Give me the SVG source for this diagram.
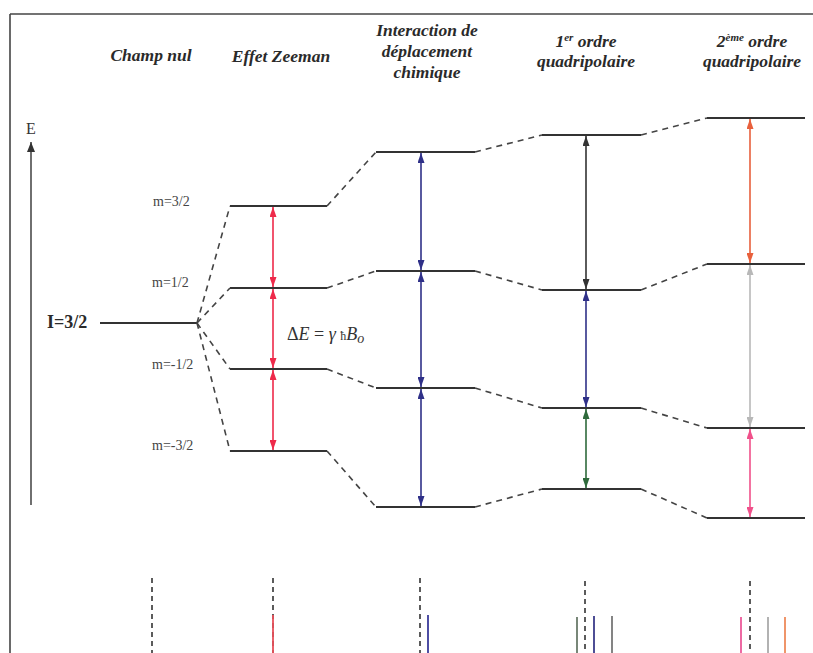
<svg xmlns="http://www.w3.org/2000/svg" width="813" height="653" viewBox="0 0 813 653">
<style>
.title{font-family:"Liberation Serif","Times New Roman",serif;font-weight:bold;font-style:italic;font-size:17.5px;fill:#2a2a2a;text-anchor:middle}
.mlab{font-family:"Liberation Serif","Times New Roman",serif;font-size:14px;fill:#444}
.lvl{stroke:#333;stroke-width:2;fill:none}
.dash{stroke:#444;stroke-width:1.6;stroke-dasharray:6 5;fill:none}
.vdash{stroke:#333;stroke-width:1.6;stroke-dasharray:5 4;fill:none}
.arr{stroke-width:1.6;fill:none}
.spec{stroke-width:1.8}
</style>
<defs>
<marker id="mRed" markerUnits="userSpaceOnUse" markerWidth="10" markerHeight="7" refX="10" refY="3.5" orient="auto-start-reverse"><path d="M0,0 L10,3.5 L0,7 z" fill="#ee2a4a"/></marker>
<marker id="mBlue" markerUnits="userSpaceOnUse" markerWidth="10" markerHeight="7" refX="10" refY="3.5" orient="auto-start-reverse"><path d="M0,0 L10,3.5 L0,7 z" fill="#2f3088"/></marker>
<marker id="mDark" markerUnits="userSpaceOnUse" markerWidth="10" markerHeight="7" refX="10" refY="3.5" orient="auto-start-reverse"><path d="M0,0 L10,3.5 L0,7 z" fill="#333"/></marker>
<marker id="mGreen" markerUnits="userSpaceOnUse" markerWidth="10" markerHeight="7" refX="10" refY="3.5" orient="auto-start-reverse"><path d="M0,0 L10,3.5 L0,7 z" fill="#2f6a3c"/></marker>
<marker id="mOrange" markerUnits="userSpaceOnUse" markerWidth="10" markerHeight="7" refX="10" refY="3.5" orient="auto-start-reverse"><path d="M0,0 L10,3.5 L0,7 z" fill="#e8603c"/></marker>
<marker id="mGray" markerUnits="userSpaceOnUse" markerWidth="10" markerHeight="7" refX="10" refY="3.5" orient="auto-start-reverse"><path d="M0,0 L10,3.5 L0,7 z" fill="#b8b8b8"/></marker>
<marker id="mPink" markerUnits="userSpaceOnUse" markerWidth="10" markerHeight="7" refX="10" refY="3.5" orient="auto-start-reverse"><path d="M0,0 L10,3.5 L0,7 z" fill="#f0508a"/></marker>
<marker id="mAxis" markerUnits="userSpaceOnUse" markerWidth="10" markerHeight="8" refX="10" refY="4" orient="auto"><path d="M0,0 L10,4 L0,8 z" fill="#333"/></marker>
</defs>
<rect x="0" y="0" width="813" height="653" fill="#fff"/>

<g id="frame">
<line x1="10" y1="14" x2="813" y2="14" stroke="#444" stroke-width="1.6"/>
<line x1="10" y1="14" x2="10" y2="653" stroke="#444" stroke-width="1.6"/>
</g>

<g id="axis">
<line x1="31" y1="505" x2="31" y2="142" stroke="#333" stroke-width="1.4" marker-end="url(#mAxis)"/>
<text x="31" y="134" font-family="'Liberation Serif','Times New Roman',serif" font-size="16" text-anchor="middle" fill="#333">E</text>
</g>

<g id="titles">
<text class="title" x="151" y="61">Champ nul</text>
<text class="title" x="281" y="62">Effet Zeeman</text>
<text class="title" x="427" y="36">Interaction de</text>
<text class="title" x="427" y="57">déplacement</text>
<text class="title" x="427" y="78">chimique</text>
<text class="title" x="586" y="47">1<tspan font-size="11" dy="-6">er</tspan><tspan dy="6"> ordre</tspan></text>
<text class="title" x="586" y="67">quadripolaire</text>
<text class="title" x="752" y="47">2<tspan font-size="11" dy="-6">ème</tspan><tspan dy="6"> ordre</tspan></text>
<text class="title" x="752" y="67">quadripolaire</text>
</g>

<g id="champ-nul">
<text x="47" y="328" font-family="'Liberation Serif','Times New Roman',serif" font-weight="bold" font-size="18" fill="#2a2a2a">I=3/2</text>
<line class="lvl" x1="100" y1="323" x2="197" y2="323"/>
</g>

<g id="zeeman">
<line class="lvl" x1="230" y1="206" x2="327" y2="206"/>
<line class="lvl" x1="230" y1="288" x2="327" y2="288"/>
<line class="lvl" x1="230" y1="369" x2="327" y2="369"/>
<line class="lvl" x1="230" y1="451" x2="327" y2="451"/>
<text class="mlab" x="153" y="206">m=3/2</text>
<text class="mlab" x="152" y="287">m=1/2</text>
<text class="mlab" x="152" y="369">m=-1/2</text>
<text class="mlab" x="152" y="450">m=-3/2</text>
<text x="287" y="340" font-family="'Liberation Serif','Times New Roman',serif" font-size="18" fill="#333">Δ<tspan font-style="italic">E</tspan> = <tspan font-style="italic">γ</tspan> <tspan font-size="12">ħ</tspan><tspan font-style="italic">B</tspan><tspan font-style="italic" font-size="14" dy="3">o</tspan></text>
</g>

<g id="chemical-shift">
<line class="lvl" x1="376" y1="152" x2="475" y2="152"/>
<line class="lvl" x1="376" y1="271" x2="475" y2="271"/>
<line class="lvl" x1="376" y1="388" x2="475" y2="388"/>
<line class="lvl" x1="376" y1="507" x2="475" y2="507"/>
</g>

<g id="quad-1">
<line class="lvl" x1="542" y1="135" x2="641" y2="135"/>
<line class="lvl" x1="542" y1="290" x2="641" y2="290"/>
<line class="lvl" x1="542" y1="408" x2="641" y2="408"/>
<line class="lvl" x1="542" y1="489" x2="641" y2="489"/>
</g>

<g id="quad-2">
<line class="lvl" x1="707" y1="118" x2="805" y2="118"/>
<line class="lvl" x1="707" y1="264" x2="805" y2="264"/>
<line class="lvl" x1="707" y1="428" x2="805" y2="428"/>
<line class="lvl" x1="707" y1="518" x2="805" y2="518"/>
</g>

<g id="connectors">
<line class="dash" x1="197" y1="323" x2="230" y2="206"/>
<line class="dash" x1="197" y1="323" x2="230" y2="288"/>
<line class="dash" x1="197" y1="323" x2="230" y2="369"/>
<line class="dash" x1="197" y1="323" x2="230" y2="451"/>
<line class="dash" x1="327" y1="206" x2="376" y2="152"/>
<line class="dash" x1="327" y1="288" x2="376" y2="271"/>
<line class="dash" x1="327" y1="369" x2="376" y2="388"/>
<line class="dash" x1="327" y1="451" x2="376" y2="507"/>
<line class="dash" x1="475" y1="152" x2="542" y2="135"/>
<line class="dash" x1="475" y1="271" x2="542" y2="290"/>
<line class="dash" x1="475" y1="388" x2="542" y2="408"/>
<line class="dash" x1="475" y1="507" x2="542" y2="489"/>
<line class="dash" x1="641" y1="135" x2="707" y2="118"/>
<line class="dash" x1="641" y1="290" x2="707" y2="264"/>
<line class="dash" x1="641" y1="408" x2="707" y2="428"/>
<line class="dash" x1="641" y1="489" x2="707" y2="518"/>
</g>

<g id="transitions">
<line class="arr" stroke="#ee2a4a" x1="273" y1="207" x2="273" y2="287" marker-start="url(#mRed)" marker-end="url(#mRed)"/>
<line class="arr" stroke="#ee2a4a" x1="273" y1="289" x2="273" y2="368" marker-start="url(#mRed)" marker-end="url(#mRed)"/>
<line class="arr" stroke="#ee2a4a" x1="273" y1="370" x2="273" y2="450" marker-start="url(#mRed)" marker-end="url(#mRed)"/>
<line class="arr" stroke="#2f3088" x1="421" y1="153" x2="421" y2="270" marker-start="url(#mBlue)" marker-end="url(#mBlue)"/>
<line class="arr" stroke="#2f3088" x1="421" y1="272" x2="421" y2="387" marker-start="url(#mBlue)" marker-end="url(#mBlue)"/>
<line class="arr" stroke="#2f3088" x1="421" y1="389" x2="421" y2="506" marker-start="url(#mBlue)" marker-end="url(#mBlue)"/>
<line class="arr" stroke="#333" x1="586" y1="136" x2="586" y2="289" marker-start="url(#mDark)" marker-end="url(#mDark)"/>
<line class="arr" stroke="#2f3088" x1="586" y1="291" x2="586" y2="407" marker-start="url(#mBlue)" marker-end="url(#mBlue)"/>
<line class="arr" stroke="#2f6a3c" x1="586" y1="409" x2="586" y2="488" marker-start="url(#mGreen)" marker-end="url(#mGreen)"/>
<line class="arr" stroke="#e8603c" x1="750" y1="119" x2="750" y2="263" marker-start="url(#mOrange)" marker-end="url(#mOrange)"/>
<line class="arr" stroke="#b8b8b8" x1="750" y1="265" x2="750" y2="427" marker-start="url(#mGray)" marker-end="url(#mGray)"/>
<line class="arr" stroke="#f0508a" x1="750" y1="429" x2="750" y2="517" marker-start="url(#mPink)" marker-end="url(#mPink)"/>
</g>

<g id="spectra">
<line class="vdash" x1="152" y1="578" x2="152" y2="653"/>
<line class="vdash" x1="273" y1="578" x2="273" y2="653"/>
<line class="spec" stroke="#e8505a" x1="273" y1="615" x2="273" y2="653"/>
<line class="vdash" x1="420" y1="578" x2="420" y2="653"/>
<line class="spec" stroke="#3a3a9a" x1="428" y1="615" x2="428" y2="653"/>
<line class="vdash" x1="585" y1="581" x2="585" y2="653"/>
<line class="spec" stroke="#6a7a6a" x1="577" y1="617" x2="577" y2="653"/>
<line class="spec" stroke="#3a3a8a" x1="594" y1="616" x2="594" y2="653"/>
<line class="spec" stroke="#777" x1="612" y1="616" x2="612" y2="653"/>
<line class="vdash" x1="750" y1="581" x2="750" y2="653"/>
<line class="spec" stroke="#ec5a9a" x1="741" y1="617" x2="741" y2="653"/>
<line class="spec" stroke="#aaa" x1="768" y1="617" x2="768" y2="653"/>
<line class="spec" stroke="#ee8a5a" x1="785" y1="617" x2="785" y2="653"/>
</g>
</svg>
